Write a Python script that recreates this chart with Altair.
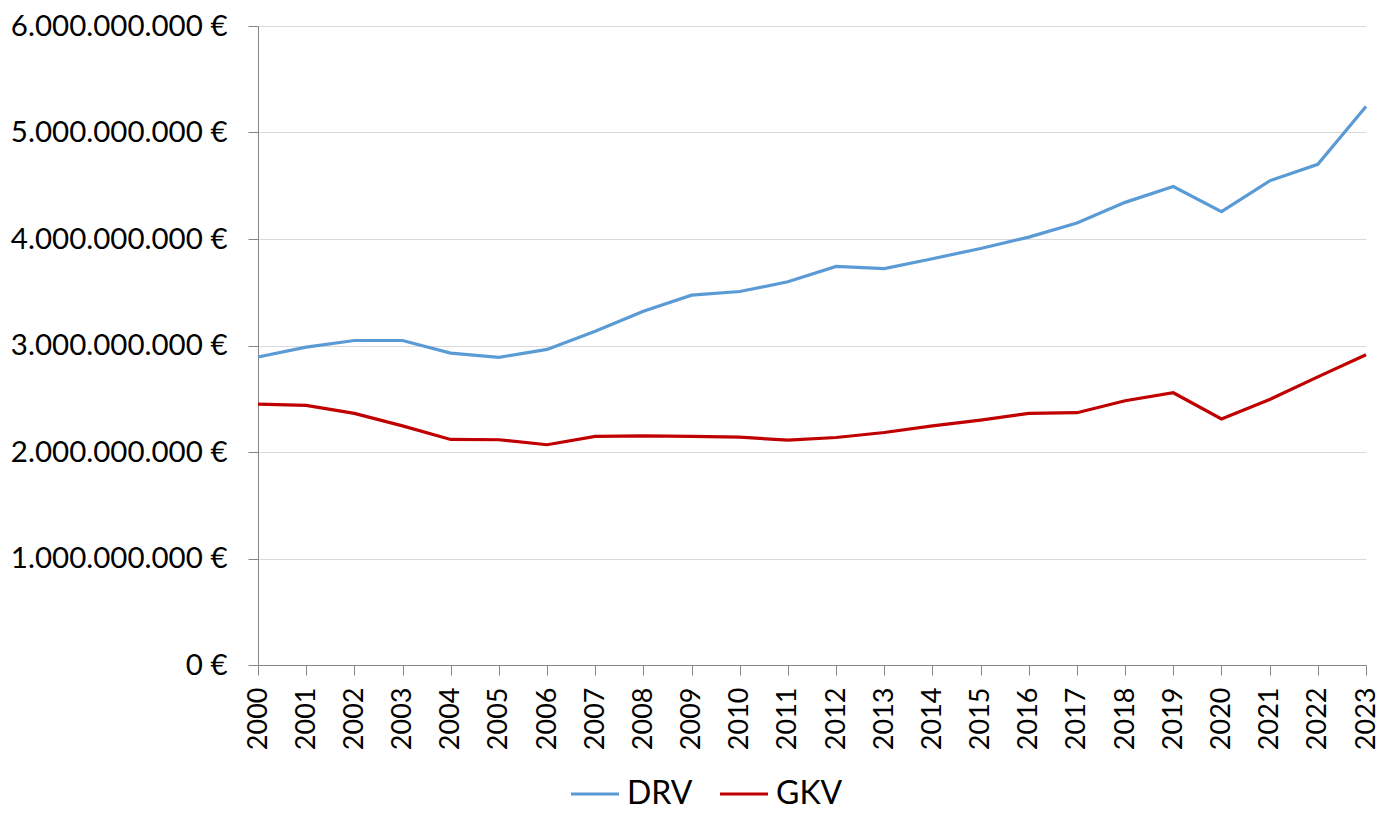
import altair as alt
import pandas as pd

years = list(range(2000, 2024))
drv = [2.892, 2.985, 3.047, 3.047, 2.929, 2.889, 2.963, 3.134, 3.321, 3.473, 3.507, 3.598,
       3.742, 3.722, 3.815, 3.911, 4.018, 4.151, 4.344, 4.493, 4.257, 4.546, 4.701, 5.245]
gkv = [2.450, 2.438, 2.363, 2.245, 2.118, 2.115, 2.068, 2.146, 2.152, 2.146, 2.139, 2.111,
       2.136, 2.183, 2.245, 2.300, 2.363, 2.369, 2.481, 2.556, 2.310, 2.493, 2.705, 2.913]
series = ["DRV", "GKV"]
colors = ["#5b9bd5", "#c00000"]
y_ticks = [0, 1e9, 2e9, 3e9, 4e9, 5e9, 6e9]

rows = []
for name, vals in zip(series, [drv, gkv]):
    for yr, v in zip(years, vals):
        rows.append({"Jahr": yr, "Wert": v * 1e9, "Reihe": name})
df = pd.DataFrame(rows)

FONT = "Lato"

chart = alt.Chart(df).mark_line(strokeWidth=3.2).encode(
    x=alt.X("Jahr:Q", scale=alt.Scale(domain=[2000, 2023], nice=False, zero=False),
            axis=alt.Axis(values=years, format="d", labelAngle=270, labelAlign="right",
                          labelBaseline="middle", grid=False, title=None,
                          labelFontSize=27, labelColor="#000000", labelPadding=12,
                          labelOverlap=False, labelFlush=False,
                          tickSize=10, tickColor="#868686", domainColor="#868686")),
    y=alt.Y("Wert:Q", scale=alt.Scale(domain=[0, 6e9], nice=False),
            axis=alt.Axis(values=y_ticks, title=None,
                          labelExpr="replace(format(datum.value, ','), /,/g, '.') + ' €'",
                          labelFontSize=29.5, labelColor="#000000", labelPadding=21,
                          labelLimit=400,
                          tickSize=10, tickColor="#868686", domainColor="#868686",
                          gridColor="#d9d9d9", gridWidth=1.2)),
    color=alt.Color("Reihe:N", scale=alt.Scale(domain=series, range=colors),
                    legend=alt.Legend(title=None, orient="none", direction="horizontal",
                                      legendX=311, legendY=742,
                                      symbolType="stroke", symbolSize=2304,
                                      symbolStrokeWidth=3.2, labelFontSize=32,
                                      labelColor="#000000", columnPadding=20,
                                      labelOffset=6)),
).properties(
    width=1108, height=639,
    autosize=alt.AutoSizeParams(type="none"),
    padding={"left": 250, "top": 18, "right": 16, "bottom": 146},
).configure(font=FONT).configure_view(stroke=None)

chart.save("out.html", embed_options={"renderer": "svg", "actions": False})
